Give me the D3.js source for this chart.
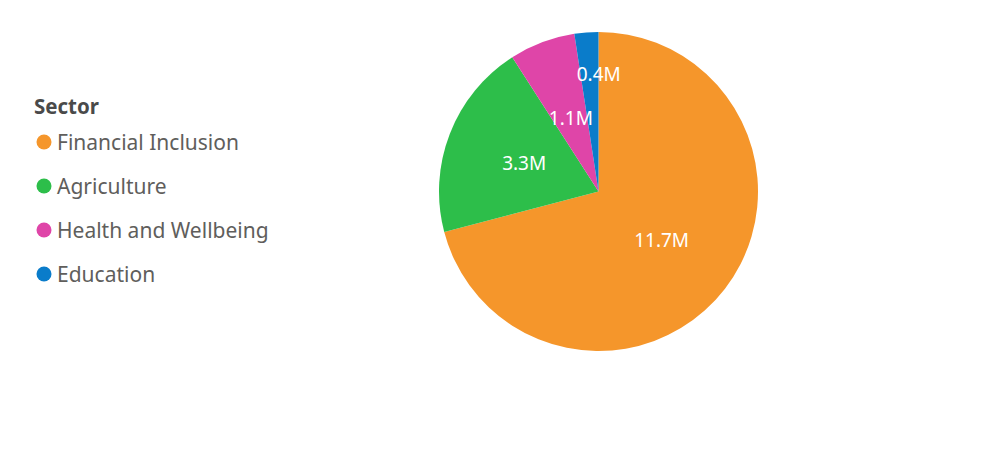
<!DOCTYPE html>
<html lang="en">

<head>
  <meta charset="UTF-8" />
  <title>Sector Pie</title>
  <script src="https://cdn.jsdelivr.net/npm/d3@7"></script>
  <style>
    html,
    body {
      margin: 0;
      padding: 0;
      background: #ffffff;
    }

    text {
      font-family: "Segoe UI", "Noto Sans", sans-serif;
    }
  </style>
</head>

<body>
  <svg id="chart" width="996" height="453"></svg>

  <script>
    // data
    let sectors = ["Financial Inclusion", "Agriculture", "Health and Wellbeing", "Education"];
    let values = [11.7, 3.3, 1.1, 0.4];
    let labels = ["11.7M", "3.3M", "1.1M", "0.4M"];
    let colors = ["#F5962B", "#2DBE4A", "#DF45A8", "#0A7CCA"];

    // label placement (fraction of radius, angle nudge in degrees)
    let labelRadius = [0.5, 0.5, 0.49, 0.735];
    let labelNudge = [0, 0, 0, 4.5];

    let svg = d3.select("#chart");
    let cx = 598.5,
      cy = 191.5,
      radius = 159.5;

    let pie = d3.pie().sort(null).value(function (d) {
      return d;
    });
    let arcs = pie(values);

    let arc = d3.arc().innerRadius(0).outerRadius(radius);

    let g = svg.append("g").attr("transform", "translate(" + cx + "," + cy + ")");

    g.selectAll("path")
      .data(arcs)
      .enter()
      .append("path")
      .attr("d", arc)
      .attr("fill", function (d, i) {
        return colors[i];
      });

    g.selectAll("text.lbl")
      .data(arcs)
      .enter()
      .append("text")
      .attr("class", "lbl")
      .attr("x", function (d, i) {
        let a = (d.startAngle + d.endAngle) / 2 + (labelNudge[i] * Math.PI) / 180;
        return Math.sin(a) * radius * labelRadius[i];
      })
      .attr("y", function (d, i) {
        let a = (d.startAngle + d.endAngle) / 2 + (labelNudge[i] * Math.PI) / 180;
        return -Math.cos(a) * radius * labelRadius[i];
      })
      .attr("text-anchor", "middle")
      .attr("dominant-baseline", "central")
      .style("fill", "#ffffff")
      .style("font-size", "19px")
      .text(function (d, i) {
        return labels[i];
      });

    // legend
    let legend = svg.append("g");
    legend
      .append("text")
      .attr("x", 34)
      .attr("y", 106)
      .attr("dominant-baseline", "central")
      .style("font-size", "20.5px")
      .style("font-weight", "bold")
      .style("fill", "#4a4a4a")
      .text("Sector");

    let legendY = d3.scalePoint().domain(sectors).range([142, 274]);

    let items = legend
      .selectAll("g.item")
      .data(sectors)
      .enter()
      .append("g")
      .attr("class", "item")
      .attr("transform", function (d) {
        return "translate(0," + legendY(d) + ")";
      });

    items
      .append("circle")
      .attr("cx", 44)
      .attr("cy", 0)
      .attr("r", 7.5)
      .style("fill", function (d, i) {
        return colors[i];
      });

    items
      .append("text")
      .attr("x", 57)
      .attr("y", 0)
      .attr("dominant-baseline", "central")
      .style("font-size", "21px")
      .style("fill", "#605E5C")
      .text(function (d) {
        return d;
      });
  </script>
</body>

</html>
